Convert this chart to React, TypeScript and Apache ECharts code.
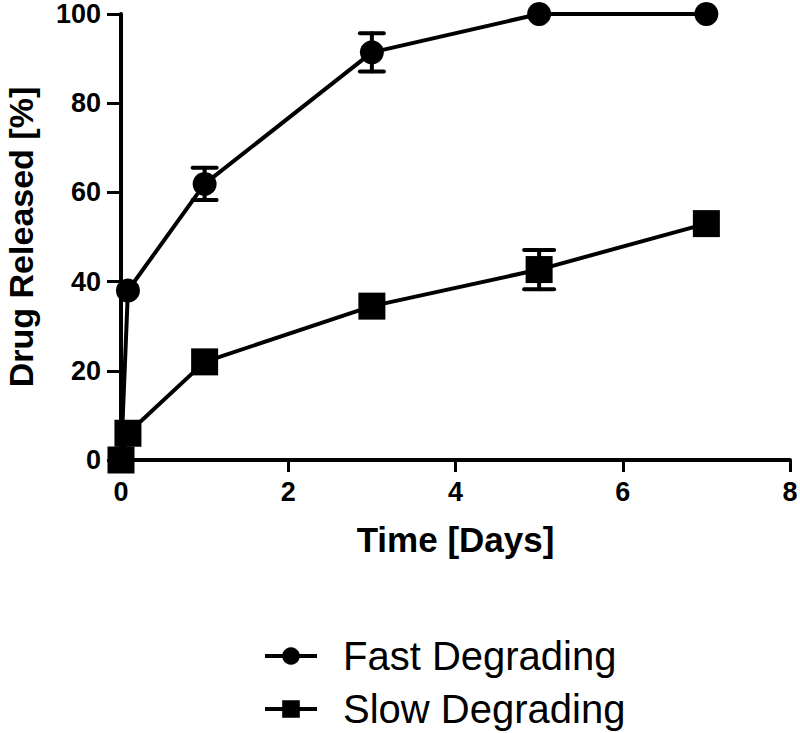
import React, { useEffect, useRef } from "react";
import * as echarts from "echarts";

const timeDays = [0, 0.083, 1, 3, 5, 7];
const fastValues = [0, 38, 61.9, 91.4, 100, 100];
const fastErr = [0, 0, 3.6, 4.3, 0, 0];
const slowValues = [0, 6, 22, 34.5, 42.7, 53];
const slowErr = [0, 0, 0, 0, 4.4, 0];
const xTicks = [0, 2, 4, 6, 8];
const yTicks = [0, 20, 40, 60, 80, 100];

const FONT = 'Arial, "Liberation Sans", sans-serif';

function errData(vals: number[], errs: number[]) {
  const out: number[][] = [];
  timeDays.forEach((t, i) => {
    if (errs[i] > 0) out.push([t, vals[i] - errs[i], vals[i] + errs[i]]);
  });
  return out;
}

function errSeries(vals: number[], errs: number[], capW: number) {
  return {
    type: "custom",
    silent: true,
    z: 1,
    clip: false,
    data: errData(vals, errs),
    renderItem: (params: any, api: any) => {
      const lo = api.coord([api.value(0), api.value(1)]);
      const hi = api.coord([api.value(0), api.value(2)]);
      const st = { stroke: "#000", lineWidth: 4, lineCap: "round" };
      return {
        type: "group",
        children: [
          { type: "line", shape: { x1: lo[0], y1: lo[1], x2: hi[0], y2: hi[1] }, style: st },
          { type: "line", shape: { x1: lo[0] - capW / 2, y1: lo[1], x2: lo[0] + capW / 2, y2: lo[1] }, style: st },
          { type: "line", shape: { x1: hi[0] - capW / 2, y1: hi[1], x2: hi[0] + capW / 2, y2: hi[1] }, style: st },
        ],
      };
    },
  };
}

export default function App() {
  const ref = useRef<HTMLDivElement>(null);
  useEffect(() => {
    const chart = echarts.init(ref.current!, null, { renderer: "svg" });
    chart.setOption({
      animation: false,
      backgroundColor: "#fff",
      grid: { left: 121, right: 10, top: 14, bottom: 273, outerBoundsMode: "none" },
      xAxis: {
        type: "value",
        min: 0,
        max: 8,
        interval: 2,
        name: "Time [Days]",
        nameLocation: "middle",
        nameGap: 62,
        nameTextStyle: { fontFamily: FONT, fontWeight: "bold", fontSize: 35, color: "#000" },
        axisLine: { onZero: false, lineStyle: { color: "#000", width: 4 } },
        axisTick: { length: 12, lineStyle: { color: "#000", width: 3 } },
        axisLabel: {
          margin: 18,
          fontFamily: FONT,
          fontWeight: "bold",
          fontSize: 27,
          color: "#000",
          formatter: (v: number) => (xTicks.includes(v) ? String(v) : ""),
        },
        splitLine: { show: false },
      },
      yAxis: {
        type: "value",
        min: 0,
        max: 100,
        interval: 20,
        name: "Drug Released [%]",
        nameLocation: "middle",
        nameGap: 83,
        nameTextStyle: { fontFamily: FONT, fontWeight: "bold", fontSize: 34, color: "#000" },
        axisLine: { show: true, lineStyle: { color: "#000", width: 4 } },
        axisTick: { show: true, length: 14, lineStyle: { color: "#000", width: 3 } },
        axisLabel: {
          margin: 20,
          fontFamily: FONT,
          fontWeight: "bold",
          fontSize: 27,
          color: "#000",
          formatter: (v: number) => (yTicks.includes(v) ? String(v) : ""),
        },
        splitLine: { show: false },
      },
      legend: {
        orient: "vertical",
        left: 258,
        top: 631,
        height: 200,
        itemWidth: 52,
        itemHeight: 22,
        itemGap: 13,
        lineStyle: { width: 4 },
        textStyle: { fontFamily: FONT, fontSize: 40, color: "#000", padding: [0, 0, 0, 21] },
        data: ["Fast Degrading", "Slow Degrading"],
      },
      series: [
        errSeries(fastValues, fastErr, 24),
        errSeries(slowValues, slowErr, 30),
        {
          name: "Fast Degrading",
          type: "line",
          clip: false,
          z: 3,
          data: timeDays.map((t, i) => [t, fastValues[i]]),
          symbol: "circle",
          symbolSize: 24,
          lineStyle: { color: "#000", width: 4 },
          itemStyle: { color: "#000" },
        },
        {
          name: "Slow Degrading",
          type: "line",
          clip: false,
          z: 4,
          data: timeDays.map((t, i) => [t, slowValues[i]]),
          symbol: "rect",
          symbolSize: 27,
          lineStyle: { color: "#000", width: 4 },
          itemStyle: { color: "#000" },
        },
      ],
    });
    return () => chart.dispose();
  }, []);
  return (
    <div
      ref={ref}
      style={{ position: "absolute", left: 0, top: 0, width: 800, height: 733 }}
    />
  );
}
